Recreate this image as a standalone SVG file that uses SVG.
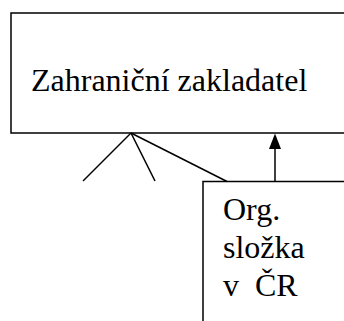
<svg xmlns="http://www.w3.org/2000/svg" width="344" height="321" viewBox="0 0 344 321">
<style>
.box{fill:#fff;stroke:#000;stroke-width:1.5}
.ln{stroke:#000;stroke-width:1.5;fill:none}
.t{font-family:"Liberation Serif","Times New Roman",serif;font-size:32px;fill:#000}
</style>
<defs>
<marker id="ah" markerWidth="12" markerHeight="16" refX="6" refY="0" orient="auto-start-reverse" markerUnits="userSpaceOnUse" viewBox="0 0 12 16">
<path d="M0,16 L6,0 L12,16 Z" fill="#000"/>
</marker>
</defs>
<g id="zakladatel">
<rect class="box" x="11" y="13" width="340" height="120"/>
<text class="t" x="31" y="91">Zahraniční zakladatel</text>
</g>
<g id="slozka">
<rect class="box" x="203" y="181.5" width="150" height="150"/>
<text class="t" x="223" y="220">Org.</text>
<text class="t" x="223" y="258">složka</text>
<text class="t" x="223" y="296" xml:space="preserve">v  ČR</text>
</g>
<g id="connectors">
<line class="ln" x1="131" y1="133" x2="83" y2="181"/>
<line class="ln" x1="131" y1="133" x2="155" y2="181"/>
<line class="ln" x1="131" y1="133" x2="227" y2="181.5"/>
<line class="ln" x1="275" y1="181.5" x2="275" y2="148"/>
<path d="M269,149 L275,133.5 L281,149 Z" fill="#000"/>
</g>
</svg>
